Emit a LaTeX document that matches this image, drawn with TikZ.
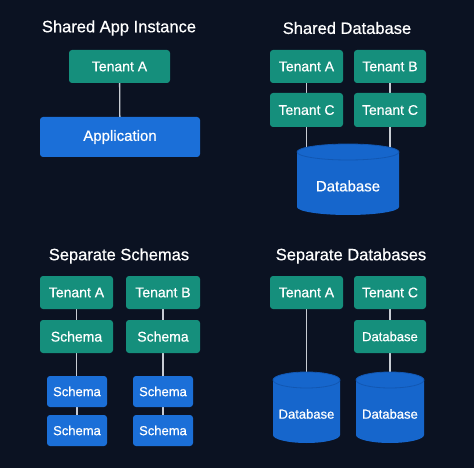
\documentclass[tikz,border=0pt]{standalone}
\usepackage{fontspec}
\setmainfont{Liberation Sans}[FakeBold=0.6]
\definecolor{bgc}{HTML}{0B1222}
\definecolor{tgreen}{HTML}{158F7C}
\definecolor{tblue}{HTML}{1B6FD8}
\definecolor{cylblue}{HTML}{1666CC}
\definecolor{cyledge}{HTML}{1257B2}
\definecolor{linec}{HTML}{C8CCD4}
\pgfdeclarelayer{back}
\pgfdeclarelayer{lines}
\pgfsetlayers{back,lines,main}
\newcommand\dbcyl[6]{% cx, top, w, h, name, label
  \pgfmathsetmacro\crx{#3/2}
  \fill[cylblue] (#1-#3/2, #2+8) -- (#1-#3/2, #2+#4-8)
    arc[start angle=180, end angle=360, x radius=\crx pt, y radius=8pt]
    -- (#1+#3/2, #2+8) -- cycle;
  \filldraw[fill=cylblue, draw=cyledge, line width=0.8pt] (#1, #2+8) ellipse [x radius=\crx pt, y radius=8pt];
  \node[dblabel] (#5) at (#1, #2+#4/2+6.5) {#6};
}
\tikzset{
  title/.style={text=white, font=\fontsize{16.5}{19}\selectfont},
  box/.style={rounded corners=3pt, inner sep=0pt, text=white, anchor=center},
  gbox/.style={box, fill=tgreen},
  bbox/.style={box, fill=tblue},
  dblabel/.style={text=white, inner sep=0pt},
  conn/.style={draw=linec, line width=1.3pt},
  f14/.style={font=\fontsize{14}{16}\selectfont},
  f13/.style={font=\fontsize{13}{15}\selectfont},
  f15/.style={font=\fontsize{15}{17}\selectfont},
}
\begin{document}
\begin{tikzpicture}[x=1pt, y=-1pt]
\begin{pgfonlayer}{back}
\fill[bgc] (0,0) rectangle (474,468);
\end{pgfonlayer}
\path[use as bounding box] (0,0) rectangle (474,468);

% Panel 1
\node[title] (h1) at (119,28) {Shared App Instance};
\node[gbox, f14, minimum width=101pt, minimum height=33pt] (p1a) at (119.5,66.5) {Tenant A};
\node[bbox, f15, minimum width=160pt, minimum height=40pt] (app) at (120,137) {Application};

% Panel 2
\node[title] (h2) at (347,28) {Shared Database};
\node[gbox, f14, minimum width=73pt, minimum height=33pt] (p2a) at (306.5,66.5) {Tenant A};
\node[gbox, f14, minimum width=72pt, minimum height=33pt] (p2b) at (390,66.5) {Tenant B};
\node[gbox, f14, minimum width=73pt, minimum height=34pt] (p2c) at (306.5,110) {Tenant C};
\node[gbox, f14, minimum width=72pt, minimum height=34pt] (p2d) at (390,110) {Tenant C};
\tikzset{dblabel/.append style={f15}}
\dbcyl{348}{144}{102}{71}{db2}{Database}

% Panel 3
\node[title] (h3) at (119,256) {Separate Schemas};
\node[gbox, f14, minimum width=73pt, minimum height=33pt] (p3a) at (76.5,292.5) {Tenant A};
\node[gbox, f14, minimum width=74pt, minimum height=33pt] (p3b) at (163,292.5) {Tenant B};
\node[gbox, f14, minimum width=73pt, minimum height=33pt] (s3a) at (76.5,336.5) {Schema};
\node[gbox, f14, minimum width=74pt, minimum height=33pt] (s3b) at (163,336.5) {Schema};
\node[bbox, f13, minimum width=60pt, minimum height=31pt] (s3c) at (77,391.5) {Schema};
\node[bbox, f13, minimum width=60pt, minimum height=31pt] (s3d) at (163,391.5) {Schema};
\node[bbox, f13, minimum width=60pt, minimum height=31pt] (s3e) at (77,430.5) {Schema};
\node[bbox, f13, minimum width=60pt, minimum height=31pt] (s3f) at (163,430.5) {Schema};

% Panel 4
\node[title] (h4) at (351,256) {Separate Databases};
\node[gbox, f14, minimum width=73pt, minimum height=33pt] (p4a) at (306.5,292.5) {Tenant A};
\node[gbox, f14, minimum width=72pt, minimum height=33pt] (p4c) at (390,292.5) {Tenant C};
\node[gbox, f13, minimum width=72pt, minimum height=33pt] (d4g) at (390,336.5) {Database};
\tikzset{dblabel/.style={text=white, inner sep=0pt, f13}}
\dbcyl{306.5}{372}{67}{71}{db4a}{Database}
\dbcyl{390}{372}{68}{71}{db4b}{Database}

% Connectors
\begin{pgfonlayer}{lines}
\draw[conn] (p1a) -- (app);
\draw[conn] (p2a) -- (p2c);
\draw[conn] (p2b) -- (p2d);
\draw[conn] (p2c) -- (p2c |- db2.center);
\draw[conn] (p2d) -- (p2d |- db2.center);
\draw[conn] (p3a) -- (s3a);
\draw[conn] (p3b) -- (s3b);
\draw[conn] (s3a) -- (s3a |- s3c.center);
\draw[conn] (s3b) -- (s3b |- s3d.center);
\draw[conn] (s3c) -- (s3e);
\draw[conn] (s3d) -- (s3f);
\draw[conn] (p4a) -- (db4a);
\draw[conn] (p4c) -- (d4g);
\draw[conn] (d4g) -- (db4b);
\end{pgfonlayer}
\end{tikzpicture}
\end{document}
